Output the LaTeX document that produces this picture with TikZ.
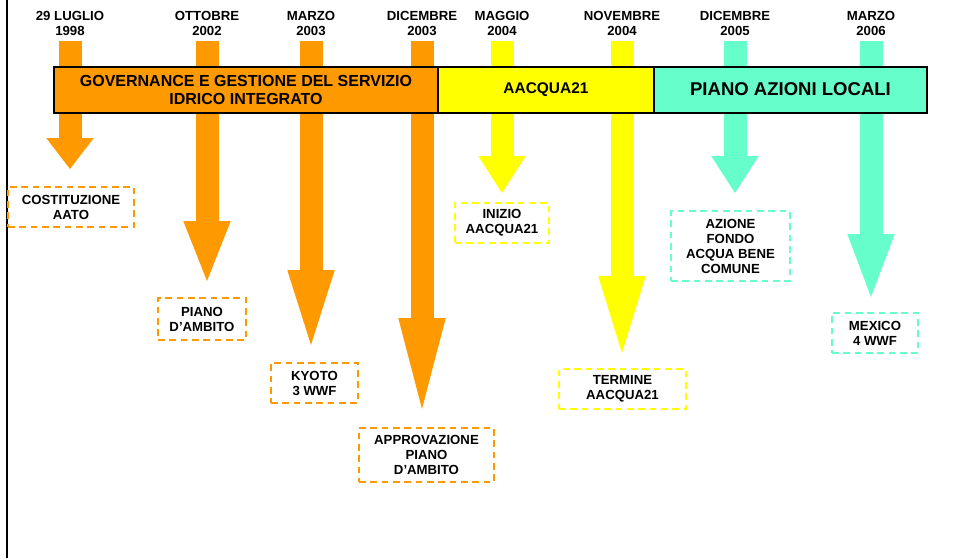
\documentclass[tikz,border=0pt]{standalone}
\usepackage{fontspec}
\setmainfont{Liberation Sans}
\usetikzlibrary{arrows.meta,positioning}

\definecolor{govorange}{HTML}{FF9900}
\definecolor{aacyellow}{HTML}{FFFF00}
\definecolor{palteal}{HTML}{66FFCC}

\tikzset{
    datelbl/.style={font=\bfseries\fontsize{9.9}{11.25}\selectfont, align=center, inner sep=0pt, text depth=0pt},
    evbox/.style={draw=#1, line width=1.5pt, dash pattern=on 5pt off 3.5pt,
        font=\bfseries\fontsize{9.9}{11.25}\selectfont, align=center, inner sep=0pt},
    evarrow/.style={line width=17.25pt, shorten <=4pt, -{Triangle[width=35.6pt,length=#1,line width=0pt]}},
    phase/.style={draw=black, line width=1.5pt, fill=#1, minimum height=34.5pt,
        outer sep=0pt, inner sep=0pt, align=center}
}

\begin{document}
\begin{tikzpicture}[x=0.75pt,y=-0.75pt]
        \useasboundingbox (0,0) rectangle (954,558);
        \draw[line width=1.8pt] (7,0) -- (7,558);

        % dates
        \node[datelbl] (d1) at (70,23.5) {29 LUGLIO\\1998};
        \node[datelbl] (d2) at (207,23.5) {OTTOBRE\\2002};
        \node[datelbl] (d3) at (311,23.5) {MARZO\\2003};
        \node[datelbl] (d4) at (422,23.5) {DICEMBRE\\2003};
        \node[datelbl] (d5) at (502,23.5) {MAGGIO\\2004};
        \node[datelbl] (d6) at (622,23.5) {NOVEMBRE\\2004};
        \node[datelbl] (d7) at (735,23.5) {DICEMBRE\\2005};
        \node[datelbl] (d8) at (871,23.5) {MARZO\\2006};

        % events
        \node[evbox=govorange, minimum width=94.5pt, minimum height=30pt] (c1) at (71,207) {COSTITUZIONE\\AATO};
        \node[evbox=govorange, minimum width=66pt, minimum height=31.5pt] (c2) at (202,319) {PIANO\\D'AMBITO};
        \node[evbox=govorange, minimum width=65.25pt, minimum height=30pt] (c3) at (314.5,383) {KYOTO\\3 WWF};
        \node[evbox=govorange, minimum width=101.25pt, minimum height=40.5pt] (c4) at (426.5,455) {APPROVAZIONE\\PIANO\\D'AMBITO};
        \node[evbox=aacyellow, minimum width=70.5pt, minimum height=30pt] (c5) at (502,223) {INIZIO\\AACQUA21};
        \node[evbox=aacyellow, minimum width=95.25pt, minimum height=30pt] (c6) at (622.5,389) {TERMINE\\AACQUA21};
        \node[evbox=palteal, minimum width=89.25pt, minimum height=52.5pt] (c7) at (730.5,246) {AZIONE\\FONDO\\ACQUA BENE\\COMUNE};
        \node[evbox=palteal, minimum width=64.5pt, minimum height=30pt] (c8) at (875,333) {MEXICO\\4 WWF};

        % block arrows
        \draw[evarrow=23.25pt, govorange, shorten >=12.75pt] (d1.south) -- (d1.south |- c1.north);
        \draw[evarrow=45pt, govorange, shorten >=12pt] (d2.south) -- (d2.south |- c2.north);
        \draw[evarrow=56.25pt, govorange, shorten >=12.75pt] (d3.south) -- (d3.south |- c3.north);
        \draw[evarrow=68.25pt, govorange, shorten >=13.5pt] (d4.south) -- (d4.south |- c4.north);
        \draw[evarrow=27.75pt, aacyellow, shorten >=6.75pt] (d5.south) -- (d5.south |- c5.north);
        \draw[evarrow=57.75pt, aacyellow, shorten >=11.25pt] (d6.south) -- (d6.south |- c6.north);
        \draw[evarrow=27.75pt, palteal, shorten >=12.75pt] (d7.south) -- (d7.south |- c7.north);
        \draw[evarrow=47.25pt, palteal, shorten >=11.25pt] (d8.south) -- (d8.south |- c8.north);

        % phases
        \node[phase=govorange, minimum width=288pt, font=\bfseries\fontsize{12}{13.5}\selectfont] (gov) at (246,89.5)
            {GOVERNANCE E GESTIONE DEL SERVIZIO\\IDRICO INTEGRATO};
        \node[phase=aacyellow, minimum width=162pt, font=\bfseries\fontsize{11.6}{13}\selectfont, right=0pt of gov] (aacq) {AACQUA21};
        \node[phase=palteal, minimum width=204.75pt, font=\bfseries\fontsize{13.9}{15}\selectfont, right=0pt of aacq] (pal) {PIANO AZIONI LOCALI};

\end{tikzpicture}
\end{document}
